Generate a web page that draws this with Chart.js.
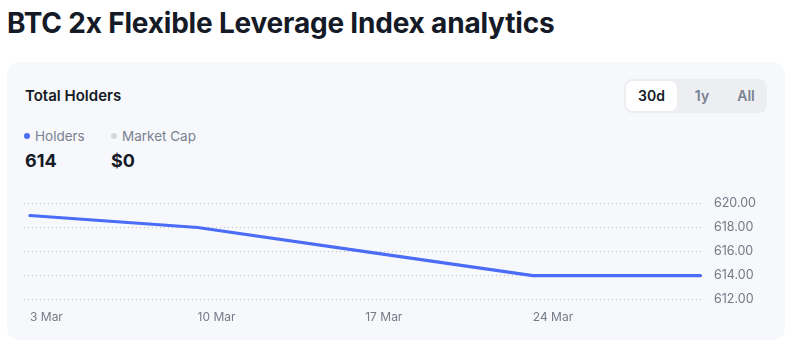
<!DOCTYPE html>
<html>
<head>
<meta charset="utf-8">
<script src="https://cdn.jsdelivr.net/npm/chart.js@4.4.1/dist/chart.umd.min.js"></script>
<style>
  html, body { margin:0; padding:0; background:#fff; }
  body { width:802px; height:349px; position:relative; overflow:hidden; font-family: Inter, "Noto Sans", sans-serif; color:#141a26; }
  h1 { position:absolute; left:7px; top:6px; margin:0; font-size:28px; line-height:34px; font-weight:700; letter-spacing:-0.2px; }
  .card { position:absolute; left:7px; top:62px; width:778px; height:278px; background:#f7f8fb; border-radius:12px; }
  .card-title { position:absolute; left:18px; top:24px; font-size:15px; font-weight:600; }
  .toggle { position:absolute; left:617px; top:17px; width:143px; height:34px; background:#eceef2; border-radius:8px; }
  .toggle span { position:absolute; top:2px; height:30px; line-height:30px; font-size:14px; font-weight:600; color:#7a8190; text-align:center; }
  .toggle span.on { background:#fff; color:#141a26; border-radius:7px; }
  .leg { position:absolute; top:66px; font-size:13.5px; color:#7a8190; }
  .leg i { display:inline-block; width:6px; height:6px; border-radius:50%; margin-right:5px; vertical-align:2px; }
  .val { position:absolute; top:88px; font-size:18px; font-weight:700; }
  #wrap { position:absolute; left:12px; top:123px; width:744px; height:151px; }
</style>
</head>
<body>
<h1>BTC 2x Flexible Leverage Index analytics</h1>
<div class="card">
  <div class="card-title">Total Holders</div>
  <div class="toggle">
    <span class="on" style="left:2px;width:51px">30d</span>
    <span style="left:60px;width:36px">1y</span>
    <span style="left:104px;width:36px">All</span>
  </div>
  <div class="leg" style="left:17px"><i style="background:#4a6cf7"></i>Holders</div>
  <div class="leg" style="left:104px"><i style="background:#d4d7dd"></i>Market Cap</div>
  <div class="val" style="left:18px">614</div>
  <div class="val" style="left:104px">$0</div>
  <div id="wrap"><canvas id="chart"></canvas></div>
</div>
<script>
// données (une valeur par semaine)
const weeks = ['3 Mar', '10 Mar', '17 Mar', '24 Mar', '31 Mar'];
const holders = [619, 618, 616, 614, 614];
const xTickLabels = ['3 Mar', '10 Mar', '17 Mar', '24 Mar'];
const yMin = 612, yMax = 620, yStep = 2;

const points = holders.map((v, i) => ({x: i, y: v}));

new Chart(document.getElementById('chart').getContext('2d'), {
  type: 'line',
  data: {
    datasets: [{
      label: 'Holders',
      data: points,
      borderColor: '#4a6cf7',
      borderWidth: 3.2,
      borderCapStyle: 'round',
      borderJoinStyle: 'round',
      pointRadius: 0,
      tension: 0,
      fill: false
    }]
  },
  options: {
    animation: false,
    responsive: true,
    maintainAspectRatio: false,
    layout: {padding: {top: 13, left: 0, right: 0, bottom: 0}},
    plugins: {legend: {display: false}, tooltip: {enabled: false}},
    scales: {
      x: {
        type: 'linear',
        min: -0.036,
        max: 4.015,
        grid: {display: false, drawTicks: false},
        border: {display: false},
        ticks: {
          stepSize: 1,
          includeBounds: false,
          autoSkip: false,
          maxRotation: 0,
          align: 'start',
          padding: 11,
          color: '#737a88',
          font: {family: 'Inter', size: 12},
          callback: (v) => Number.isInteger(v) && xTickLabels[v] ? xTickLabels[v] : ''
        }
      },
      y: {
        position: 'right',
        min: yMin,
        max: yMax,
        afterFit: (axis) => { axis.width = 60; },
        grid: {color: '#b9bdc6', drawTicks: false, lineWidth: 1},
        border: {display: false, dash: [1, 3]},
        ticks: {
          stepSize: yStep,
          padding: 11,
          color: '#737a88',
          font: {family: 'Inter', size: 12.5},
          callback: (v) => v.toFixed(2)
        }
      }
    }
  }
});
</script>
</body>
</html>
